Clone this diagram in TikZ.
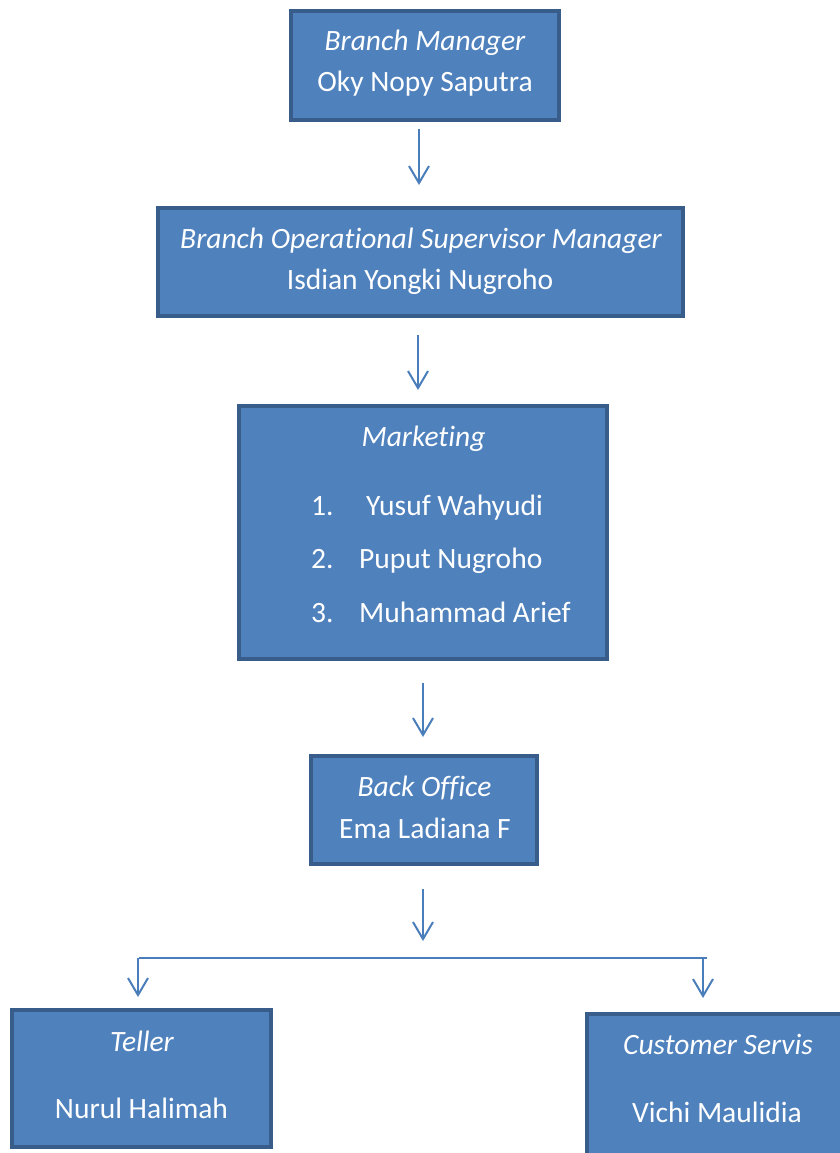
\documentclass[tikz,border=0pt]{standalone}
\usepackage{fontspec}
\setmainfont{Carlito}[RawFeature={-liga;-clig;-dlig;-calt}]
\usetikzlibrary{arrows.meta}
\definecolor{boxfill}{HTML}{4F81BD}
\definecolor{boxline}{HTML}{385D8A}
\definecolor{linkcol}{HTML}{4A7EBB}
\begin{document}
\begin{tikzpicture}[x=1pt,y=-1pt,
  orgbox/.style={draw=boxline,fill=boxfill,line width=4pt,rectangle,inner sep=0pt},
  txt/.style={text=white,anchor=base,inner sep=0pt,font=\fontsize{29.5}{35}\selectfont},
  ttl/.style={txt,font=\fontsize{29.5}{35}\selectfont\itshape},
  lbl/.style={txt,anchor=base west},
  link/.style={draw=linkcol,line width=2pt,-{Straight Barb[length=17pt,width=20pt,line width=2pt]}},
  bar/.style={draw=linkcol,line width=2pt}]
\clip (0,0) rectangle (840,1153);
\fill[white] (0,0) rectangle (840,1153);

% boxes
\node[orgbox,minimum width=268pt,minimum height=109pt] (bm) at (425,65.5) {};
\node[orgbox,minimum width=525pt,minimum height=108pt] (bos) at (420.5,262) {};
\node[orgbox,minimum width=368pt,minimum height=253pt] (mkt) at (423,532.5) {};
\node[orgbox,minimum width=226pt,minimum height=108pt] (bo) at (424,810) {};
\node[orgbox,minimum width=259pt,minimum height=137pt] (tl) at (141.5,1078.5) {};
\node[orgbox,minimum width=262pt,minimum height=170pt] (cs) at (718,1099) {};

% texts
\node[ttl] (bmT) at (425,51) {Branch Manager};
\node[txt] (bmN) at (425,92) {Oky Nopy Saputra};
\node[ttl] (bosT) at (421,248) {Branch Operational Supervisor Manager};
\node[txt] (bosN) at (420,289) {Isdian Yongki Nugroho};
\node[ttl] (mktT) at (423.5,446) {Marketing};
\node[lbl] (n1) at (311,515) {1.};
\node[lbl] (m1) at (366,515) {Yusuf Wahyudi};
\node[lbl] (n2) at (311,568) {2.};
\node[lbl] (m2) at (359,568) {Puput Nugroho};
\node[lbl] (n3) at (311,622) {3.};
\node[lbl] (m3) at (359,622) {Muhammad Arief};
\node[ttl] (boT) at (424.5,796) {Back Office};
\node[txt] (boN) at (425,838) {Ema Ladiana F};
\node[ttl] (tlT) at (142,1051) {Teller};
\node[txt] (tlN) at (141.5,1118) {Nurul Halimah};
\node[ttl] (csT) at (718,1054) {Customer Servis};
\node[txt] (csN) at (717,1122) {Vichi Maulidia};

% connector end points
\coordinate (a1s) at (419,129);  \coordinate (a1e) at (419,185);
\coordinate (a2s) at (418,335);  \coordinate (a2e) at (418,390);
\coordinate (a3s) at (423,683);  \coordinate (a3e) at (423,737);
\coordinate (a4s) at (423,889);  \coordinate (a4e) at (423,941);
\coordinate (barL) at (139,958); \coordinate (barR) at (707,958);
\coordinate (l1s) at (138,958);  \coordinate (l1e) at (138,997);
\coordinate (r1s) at (703,958);  \coordinate (r1e) at (703,998);

% connectors
\draw[link] (a1s) -- (a1e);
\draw[link] (a2s) -- (a2e);
\draw[link] (a3s) -- (a3e);
\draw[link] (a4s) -- (a4e);
\draw[bar] (barL) -- (barR);
\draw[link] (l1s) -- (l1e);
\draw[link] (r1s) -- (r1e);
\end{tikzpicture}
\end{document}
